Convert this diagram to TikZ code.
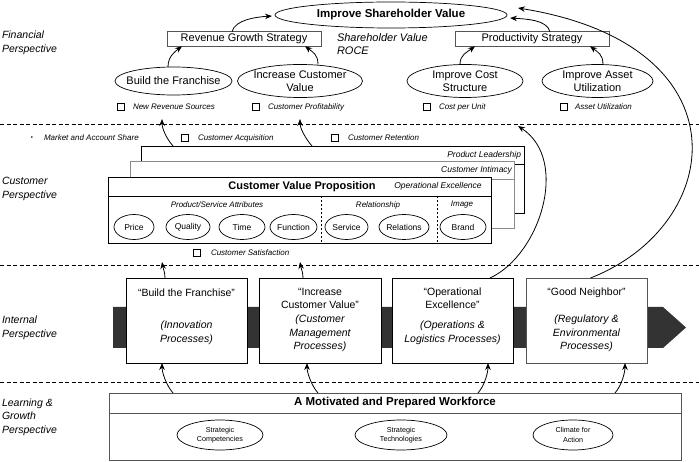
\documentclass[tikz,border=0pt]{standalone}
\usepackage{fontspec}
\setmainfont{Liberation Sans}
\usetikzlibrary{shapes.geometric,arrows.meta,calc}
\definecolor{bandc}{HTML}{333333}
\definecolor{edgegray}{HTML}{555555}
\definecolor{lightedge}{HTML}{8A8A8A}
\begin{document}
\begin{tikzpicture}[x=1pt,y=-1pt,
  every node/.style={inner sep=0pt, outer sep=0pt},
  ell/.style={draw, ellipse, line width=0.7pt, fill=white},
  fin/.style={font=\fontsize{11}{13}\selectfont, align=center},
  smallell/.style={font=\fontsize{8.5}{10}\selectfont, align=center},
  tinyell/.style={font=\fontsize{7.2}{9.5}\selectfont, align=center},
  small/.style={font=\fontsize{8}{9}\selectfont\itshape},
  persp/.style={font=\fontsize{10.5}{13.5}\selectfont\itshape, align=left, anchor=west},
  chk/.style={draw, line width=0.6pt, minimum size=6.5pt},
  arr/.style={line width=0.8pt, -{Stealth[length=7pt,width=5.5pt]}},
  divider/.style={dash pattern=on 4pt off 2.5pt, line width=0.6pt},
  box/.style={draw, line width=0.8pt, fill=white},
  ptitle/.style={font=\fontsize{10.5}{13}\selectfont, align=center},
  psub/.style={font=\fontsize{10.5}{13.5}\selectfont\itshape, align=center},
  hdr/.style={font=\fontsize{8.5}{10}\selectfont\itshape},
]
\useasboundingbox (0,0) rectangle (699,462);

% dividers
\draw[divider] (0,124) -- (699,124);
\draw[divider] (0,265) -- (699,265);
\draw[divider] (0,382) -- (699,382);

% perspective labels
\node[persp] (fp) at (2,43) {Financial\\Perspective};
\node[persp] (cp) at (2,189) {Customer\\Perspective};
\node[persp] (ip) at (2,328) {Internal\\Perspective};
\node[persp] (lp) at (2,417) {Learning \&\\Growth\\Perspective};

% ---------------- Financial
\node[ell, minimum width=232pt, minimum height=26pt,
  label={[font=\fontsize{11.5}{13}\selectfont\bfseries]center:Improve Shareholder Value}] (isv) at (391,15) {};
\node[draw=edgegray, line width=0.8pt, minimum width=154pt, minimum height=14.5pt, fin] (rgs) at (244,39) {Revenue Growth Strategy};
\node[draw=edgegray, line width=0.8pt, minimum width=154pt, minimum height=14.5pt, fin] (ps) at (532,39) {Productivity Strategy};
\node[font=\fontsize{11}{13}\selectfont\itshape, align=left, anchor=west] (shv) at (337,44.5) {Shareholder Value\\ROCE};

\node[ell, minimum width=117pt, minimum height=28pt, label={[fin]center:Build the Franchise}] (btf) at (173.5,81) {};
\node[ell, minimum width=125pt, minimum height=33pt, label={[fin]center:Increase Customer\\Value}] (icv) at (300,81) {};
\node[ell, minimum width=116pt, minimum height=33pt, label={[fin]center:Improve Cost\\Structure}] (ics) at (465,81) {};
\node[ell, minimum width=111pt, minimum height=33pt, label={[fin]center:Improve Asset\\Utilization}] (iau) at (597.5,81) {};

\node[chk] (c1) at (121,107) {};
\node[small, anchor=west] (t1) at (133,107) {New Revenue Sources};
\node[chk] (c2) at (256,107) {};
\node[small, anchor=west] (t2) at (268,107) {Customer Profitability};
\node[chk] (c3) at (427,107) {};
\node[small, anchor=west] (t3) at (439,107) {Cost per Unit};
\node[chk] (c4) at (564,107) {};
\node[small, anchor=west] (t4) at (575,107) {Asset Utilization};

% financial arrows
\draw[arr] ([xshift=-5.5pt]btf.north) .. controls +(0,-10) and +(-8,6) .. ([xshift=-62pt]rgs.south);
\draw[arr] ([xshift=18pt]icv.north) .. controls +(0,-10) and +(8,6) .. ([xshift=61pt]rgs.south);
\draw[arr] ([xshift=-5pt]ics.north) .. controls +(0,-10) and +(-8,6) .. ([xshift=-57pt]ps.south);
\draw[arr] ([xshift=5.5pt]iau.north) .. controls +(0,-10) and +(8,6) .. ([xshift=58pt]ps.south);
\draw[arr] ([xshift=-12pt]rgs.north) .. controls +(3,-12) and +(-16,1) .. ([shift={(-3pt,-1pt)}]isv.west);
\draw[arr] ([xshift=18pt]ps.north) .. controls +(-3,-12) and +(16,1) .. ([shift={(3pt,-3pt)}]isv.east);

% ---------------- Customer
\node[font=\fontsize{6}{7}\selectfont] (bul) at (32,138) {•};
\node[small, anchor=west] (t5) at (44,138) {Market and Account Share};
\node[chk] (c6) at (185,138) {};
\node[small, anchor=west] (t6) at (198,138) {Customer Acquisition};
\node[chk] (c7) at (335,138) {};
\node[small, anchor=west] (t7) at (348,138) {Customer Retention};

% stacked boxes
\node[box, minimum width=383pt, minimum height=67pt] (pl) at (332.5,179.5) {};
\draw[line width=0.8pt] ([yshift=-18pt]pl.north west) -- ([yshift=-18pt]pl.north east);
\node[hdr, anchor=east] (plt) at (521,155) {Product Leadership};

\node[draw=lightedge, line width=0.8pt, fill=white, minimum width=384pt, minimum height=67pt] (ci) at (322,194.5) {};
\draw[lightedge, line width=0.8pt] ([yshift=-18pt]ci.north west) -- ([yshift=-18pt]ci.north east);
\node[hdr, anchor=east] (cit) at (512,170) {Customer Intimacy};

\node[box, minimum width=383pt, minimum height=66pt] (cvp) at (299.5,210) {};
\draw[line width=0.8pt] ([yshift=-19pt]cvp.north west) -- ([yshift=-19pt]cvp.north east);
\node[font=\fontsize{11}{13}\selectfont\bfseries] (cvpt) at (302,187) {Customer Value Proposition};
\node[hdr] (oet) at (438,186) {Operational Excellence};
\draw[dash pattern=on 2.5pt off 1.5pt, line width=0.6pt] (321,196) -- (321,243);
\draw[dash pattern=on 2.5pt off 1.5pt, line width=0.6pt] (437,196) -- (437,243);

\node[small] (psa) at (217,205) {Product/Service Attributes};
\node[small] (rel) at (378,205) {Relationship};
\node[small] (img) at (462,205) {Image};

\node[ell, minimum width=40pt, minimum height=25pt, label={[smallell]center:Price}] (e1) at (134,227) {};
\node[ell, minimum width=44pt, minimum height=25pt, label={[smallell]center:Quality}] (e2) at (188,227) {};
\node[ell, minimum width=46pt, minimum height=25pt, label={[smallell]center:Time}] (e3) at (242,227) {};
\node[ell, minimum width=47pt, minimum height=25pt, label={[smallell]center:Function}] (e4) at (293.5,227) {};
\node[ell, minimum width=43pt, minimum height=25pt, label={[smallell]center:Service}] (e5) at (346.5,227) {};
\node[ell, minimum width=50pt, minimum height=25pt, label={[smallell]center:Relations}] (e6) at (404,227) {};
\node[ell, minimum width=46pt, minimum height=25pt, label={[smallell]center:Brand}] (e7) at (463,227) {};

\node[chk] (c8) at (197,253) {};
\node[small, anchor=west] (t8) at (211,253) {Customer Satisfaction};

\coordinate (nrsT) at (162,119);
\coordinate (cpT) at (300,119);
\draw[arr] ([xshift=32pt]pl.north west) .. controls +(-7,-8) and +(0,9) .. (nrsT);
\draw[arr] ([xshift=171pt]pl.north west) .. controls +(-7,-8) and +(0,9) .. (cpT);

% ---------------- Internal
\fill[bandc] (113,307) -- (663,307) -- (686,327.5) -- (663,348) -- (113,348) -- cycle;
\node[box, minimum width=121pt, minimum height=85pt] (b1) at (186.5,320.5) {};
\node[box, minimum width=122pt, minimum height=85pt] (b2) at (320,320.5) {};
\node[box, minimum width=121pt, minimum height=85pt] (b3) at (452.5,320.5) {};
\node[box, draw=edgegray, minimum width=121pt, minimum height=85pt] (b4) at (586.5,320.5) {};

\node[ptitle] (b1t) at (186.5,293) {“Build the Franchise”};
\node[psub] (b1s) at (186.5,333) {(Innovation\\Processes)};
\node[ptitle] (b2t) at (320,298.5) {“Increase\\Customer Value”};
\node[psub] (b2s) at (320,333.5) {(Customer\\Management\\Processes)};
\node[ptitle] (b3t) at (452.5,298.5) {“Operational\\Excellence”};
\node[psub] (b3s) at (452.5,333) {(Operations \&\\Logistics Processes)};
\node[ptitle] (b4t) at (586.5,293) {“Good Neighbor”};
\node[psub] (b4s) at (586.5,333.5) {(Regulatory \&\\Environmental\\Processes)};

\coordinate (csA) at (162,262);
\coordinate (csB) at (300,262);
\draw[arr] ([xshift=-21.5pt]b1.north) .. controls +(0,-6) and +(1,6) .. (csA);
\draw[arr] ([xshift=-17pt]b2.north) .. controls +(0,-6) and +(1,6) .. (csB);

\coordinate (oeend) at (518,126);
\draw[arr] ([xshift=37.5pt]b3.north) .. controls +(50,-23) and +(52,34) .. (oeend);
\draw[arr] ([xshift=4pt]b4.north) .. controls +(135,-53) and +(230,37) .. ([shift={(11pt,7pt)}]isv.east);

% ---------------- Learning & Growth
\node[box, draw=edgegray, minimum width=572pt, minimum height=67pt] (wf) at (395,426.5) {};
\draw[edgegray, line width=0.8pt] ([yshift=-20pt]wf.north west) -- ([yshift=-20pt]wf.north east);
\node[font=\fontsize{11.5}{13}\selectfont\bfseries] (wft) at (395,403) {A Motivated and Prepared Workforce};
\node[ell, minimum width=86pt, minimum height=30pt, label={[tinyell]center:Strategic\\Competencies}] (sc) at (220,435) {};
\node[ell, minimum width=92pt, minimum height=30pt, label={[tinyell]center:Strategic\\Technologies}] (st) at (401,435) {};
\node[ell, minimum width=80pt, minimum height=30pt, label={[tinyell]center:Climate for\\Action}] (ca) at (573,435) {};

\draw[arr] ([xshift=64pt]wf.north west) .. controls +(-7,-8) and +(0,9) .. ([xshift=-24.5pt]b1.south);
\draw[arr] ([xshift=209pt]wf.north west) .. controls +(-7,-8) and +(0,9) .. ([xshift=-13pt]b2.south);
\draw[arr] ([xshift=369pt]wf.north west) .. controls +(7,-8) and +(0,9) .. ([xshift=35.5pt]b3.south);
\draw[arr] ([xshift=506pt]wf.north west) .. controls +(7,-8) and +(0,9) .. ([xshift=38.5pt]b4.south);
\end{tikzpicture}
\end{document}
